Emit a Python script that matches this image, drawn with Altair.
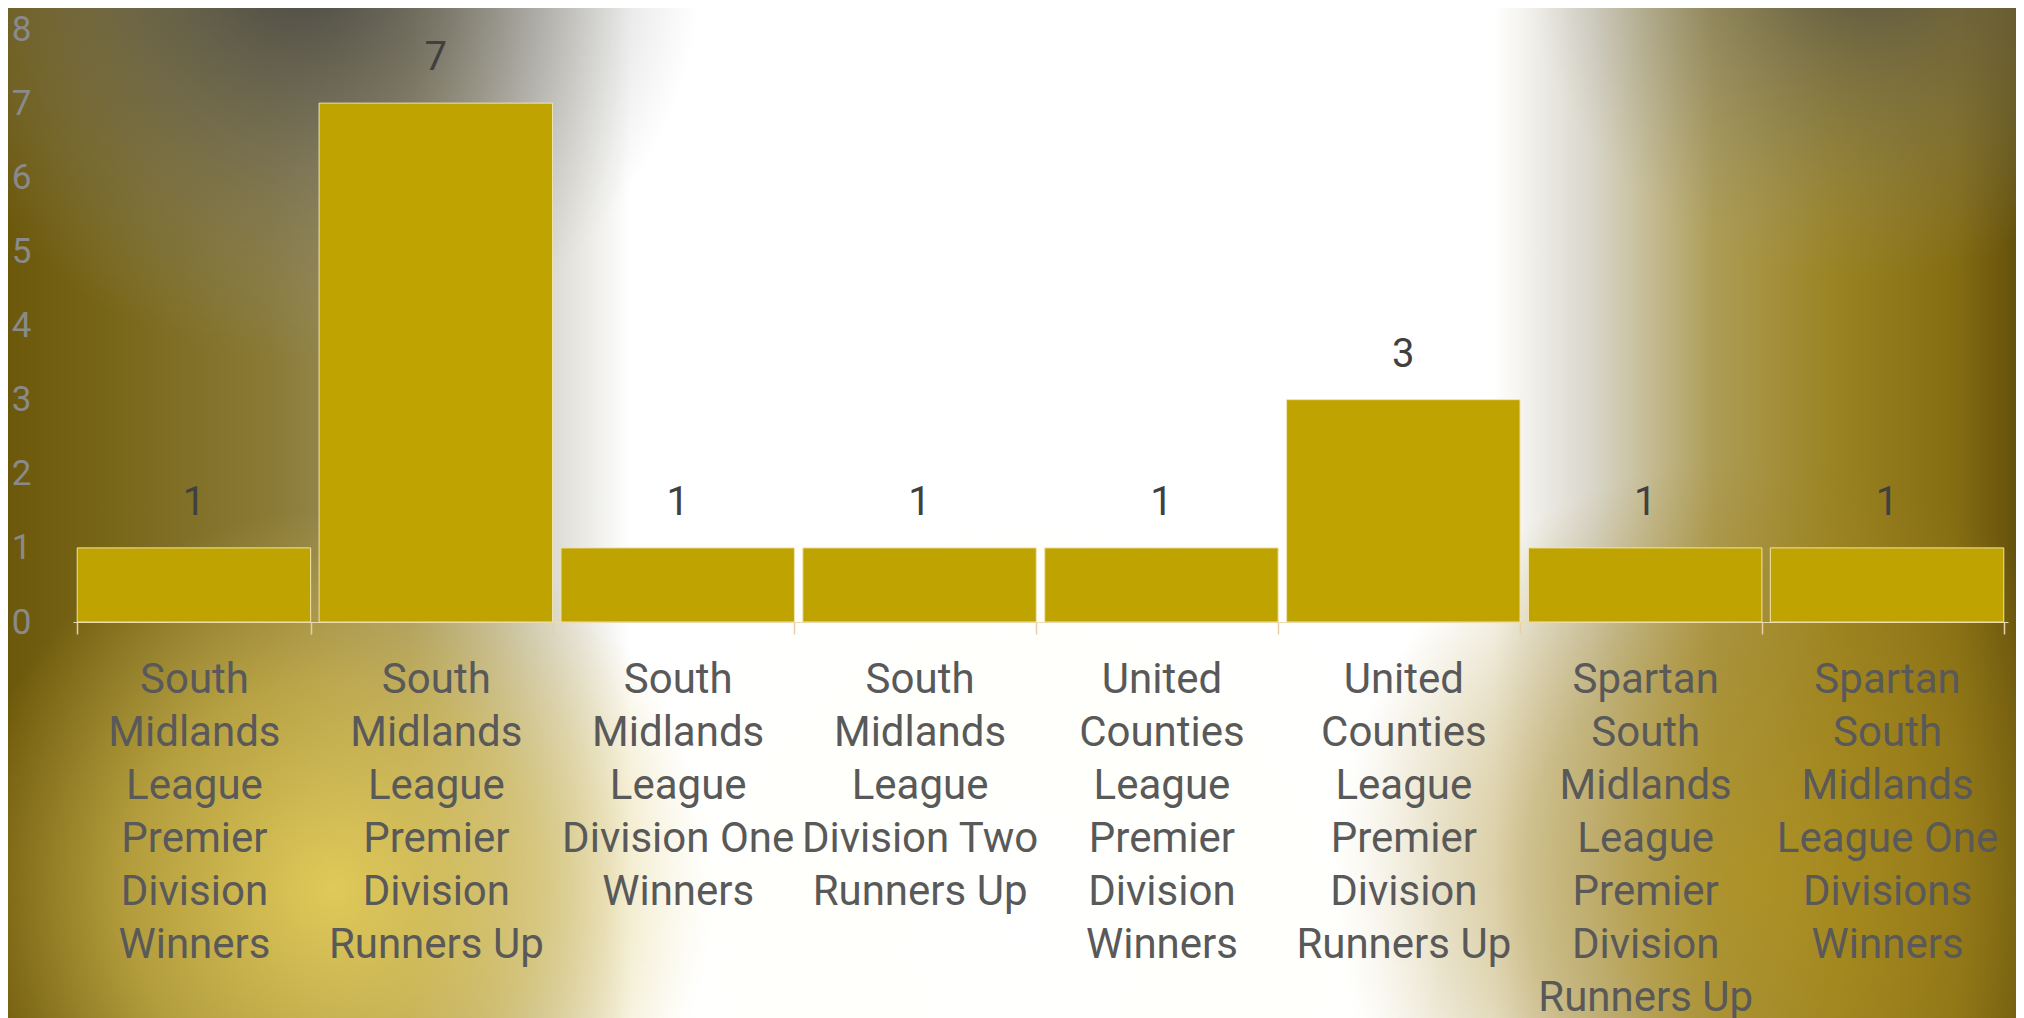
import altair as alt
import pandas as pd

# ---- data ----
category_lines = [
    ["South", "Midlands", "League", "Premier", "Division", "Winners"],
    ["South", "Midlands", "League", "Premier", "Division", "Runners Up"],
    ["South", "Midlands", "League", "Division One", "Winners"],
    ["South", "Midlands", "League", "Division Two", "Runners Up"],
    ["United", "Counties", "League", "Premier", "Division", "Winners"],
    ["United", "Counties", "League", "Premier", "Division", "Runners Up"],
    ["Spartan", "South", "Midlands", "League", "Premier", "Division", "Runners Up"],
    ["Spartan", "South", "Midlands", "League One", "Divisions", "Winners"],
]
values = [1, 7, 1, 1, 1, 3, 1, 1]
y_ticks = [0, 1, 2, 3, 4, 5, 6, 7, 8]

categories = ["\n".join(l) for l in category_lines]
df = pd.DataFrame({"category": categories, "count": values})
one = pd.DataFrame({"k": [0]})

FONT = "Roboto"
W, H = 1935, 593
PL, PT, PR, PB = 65, 21, 8, 396


def lin(stops):
    return {"gradient": "linear", "x1": 0, "y1": 0, "x2": 1, "y2": 0,
            "stops": [{"offset": o, "color": c} for o, c in stops]}


def rad(stops):
    return {"gradient": "radial", "x1": 0.5, "y1": 0.5, "r1": 0,
            "x2": 0.5, "y2": 0.5, "r2": 0.5,
            "stops": [{"offset": o, "color": c} for o, c in stops]}


def rect(fill, x0, x1, y0, y1):
    return alt.Chart(one).mark_rect(fill=fill, strokeWidth=0).encode(
        x=alt.value(x0), x2=alt.value(x1), y=alt.value(y0), y2=alt.value(y1)
    )


def blob(stops, cx, cy, r):
    # circular radial gradient, in plot pixel space
    return rect(rad(stops), cx - r, cx + r, cy - r, cy + r)


base_bg = rect(lin([
    (0.0, "#6c580a"), (0.05, "#786618"), (0.13, "#8a7a36"), (0.20, "#a09568"),
    (0.26, "#d2d0c6"), (0.31, "#ffffff"), (0.74, "#ffffff"), (0.79, "#d8d5c8"),
    (0.85, "#ad9c55"), (0.91, "#9a8322"), (0.97, "#846c12"), (1.0, "#65520c"),
]), -PL, W + PR, -PT, H + PB)

gray_tl = blob([(0.0, "rgba(65,65,65,0.95)"), (0.4, "rgba(95,95,95,0.6)"),
                (1.0, "rgba(150,150,150,0)")], 230, -70, 400)
gray_tr = blob([(0.0, "rgba(70,70,65,0.9)"), (0.4, "rgba(100,100,95,0.5)"),
                (1.0, "rgba(150,150,140,0)")], 1790, -90, 340)
yellow_bl = blob([(0.0, "rgba(228,205,90,0.95)"), (0.55, "rgba(215,190,80,0.6)"),
                  (1.0, "rgba(210,185,80,0)")], 260, 860, 380)
gold_br = blob([(0.0, "rgba(175,145,30,0.75)"), (0.55, "rgba(165,135,30,0.45)"),
                (1.0, "rgba(160,130,30,0)")], 1680, 850, 420)
white_bc = blob([(0.0, "rgba(255,255,255,1)"), (0.55, "rgba(255,255,250,0.75)"),
                 (1.0, "rgba(255,255,250,0)")], 950, 900, 420)

x_enc = alt.X(
    "category:N", sort=categories,
    scale=alt.Scale(paddingInner=0.035, paddingOuter=0.0175),
    axis=alt.Axis(
        title=None, labelAngle=0,
        labelExpr="isValid(datum.value) ? split(datum.value, '\\n') : ''",
        labelFont=FONT, labelFontSize=42, labelLineHeight=53, labelColor="#595959",
        labelLimit=400, labelOverlap=False, labelPadding=25, labelBaseline="top",
        ticks=True, tickBand="extent", tickSize=12, tickColor="#e9cfa8", tickWidth=1.5,
        domain=True, domainColor="#eadcae", domainWidth=1, grid=False, zindex=1,
    ),
)
y_enc = alt.Y(
    "count:Q", scale=alt.Scale(domain=[0, 8], nice=False),
    axis=alt.Axis(
        title=None, values=y_ticks, format="d", grid=False, domain=False, ticks=False,
        labelFont=FONT, labelFontSize=35, labelColor="#8a8a8a", labelPadding=42,
        labelLimit=100, zindex=1,
    ),
)

bars = alt.Chart(df).mark_bar(color="#bfa300", stroke="#efe3b0", strokeWidth=1).encode(
    x=x_enc, y=y_enc
)
texts = alt.Chart(df).mark_text(
    font=FONT, fontSize=40, color="#404040", baseline="middle", dy=-45
).encode(x=alt.X("category:N", sort=categories), y="count:Q", text="count:Q")

chart = alt.layer(base_bg, gray_tl, gray_tr, yellow_bl, gold_br, white_bc, bars, texts).properties(
    width=W, height=H,
    autosize=alt.AutoSizeParams(type="none"),
    padding={"left": PL, "top": PT, "right": PR, "bottom": PB},
    background="white",
).configure_view(stroke=None)

chart.save("out.html", embed_options={"renderer": "svg", "actions": False})
